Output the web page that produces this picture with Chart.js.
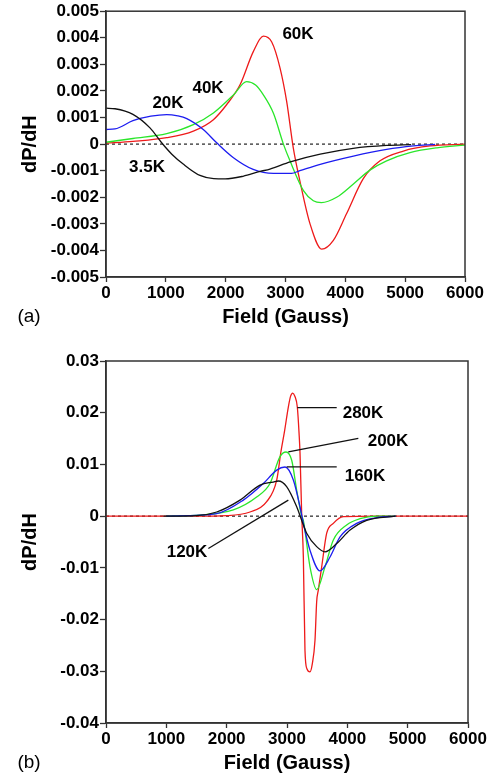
<!DOCTYPE html>
<html><head><meta charset="utf-8">
<script src="https://cdn.jsdelivr.net/npm/chart.js@4/dist/chart.umd.min.js"></script>
<style>
html,body{margin:0;padding:0;background:#fff;}
#wrap{position:relative;width:498px;height:779px;overflow:hidden;}
canvas{position:absolute;left:0;}
#ca{top:0;}
#cb{top:340px;}
</style></head><body>
<div id="wrap"><canvas id="ca" width="498" height="340"></canvas><canvas id="cb" width="498" height="439"></canvas></div>
<script>
// ---------- Panel (a) data ----------
const a_field_3_5K = [0, 150, 450, 735, 930, 1100, 1290, 1570, 1800, 1990, 2290, 2575, 2740, 3080, 3580, 4130, 4690, 5100];
const a_dpdh_3_5K  = [0.00135, 0.00133, 0.00112, 0.00061, 0.00005, -0.00038, -0.00075, -0.00118, -0.0013, -0.00131, -0.00121, -0.00103, -0.00094, -0.00067, -0.00038, -0.00016, -0.00005, -0.00002];
const a_field_20K = [0, 150, 450, 750, 1015, 1200, 1350, 1625, 1850, 2130, 2460, 2800, 3100, 3240, 3580, 4135, 4690, 5140, 5500];
const a_dpdh_20K  = [0.00055, 0.00057, 0.00088, 0.00105, 0.00111, 0.00106, 0.00096, 0.00055, 0.00005, -0.00051, -0.00095, -0.0011, -0.0011, -0.001, -0.00076, -0.00045, -0.0002, -0.00007, -0.00001];
const a_field_40K = [0, 450, 1015, 1460, 1795, 2130, 2350, 2500, 2630, 2800, 2965, 3075, 3300, 3465, 3600, 3855, 4135, 4410, 4690, 5080, 5530, 6000];
const a_dpdh_40K  = [0.00007, 0.00021, 0.00039, 0.00073, 0.00117, 0.00185, 0.00235, 0.00222, 0.00185, 0.00115, 0.0, -0.00063, -0.00175, -0.00213, -0.0022, -0.002, -0.0015, -0.00098, -0.00063, -0.00032, -0.00014, -0.00004];
const a_field_60K = [0, 450, 1015, 1460, 1795, 2015, 2240, 2460, 2630, 2770, 2910, 3020, 3130, 3240, 3410, 3605, 3800, 4020, 4300, 4580, 4970, 5415, 6000];
const a_dpdh_60K  = [0.00003, 0.0001, 0.00024, 0.00049, 0.00092, 0.00148, 0.00223, 0.00347, 0.00406, 0.00384, 0.00285, 0.0016, -0.00014, -0.00138, -0.003, -0.00395, -0.00362, -0.00262, -0.0013, -0.00063, -0.00026, -0.00007, 0];
const a_yticks = [-0.005, 0.005, 0.001];   // min, max, step
const a_labels = ["3.5K", "20K", "40K", "60K"];
const a_label_field = [685, 1036, 1705, 3209];
const a_label_dpdh  = [-0.00086, 0.00153, 0.00209, 0.00414];

// ---------- Panel (b) data ----------
const b_field_120K = [950, 1500, 1835, 2221, 2553, 2773, 2856, 2994, 3161, 3243, 3326, 3492, 3630, 3824, 4045, 4321, 4800];
const b_dpdh_120K  = [0, 0.0001, 0.0008, 0.0031, 0.006, 0.0066, 0.0068, 0.0057, 0.0018, -0.0008, -0.0033, -0.0059, -0.0069, -0.0053, -0.0027, -0.0008, 0];
const b_field_160K = [1000, 1835, 2276, 2607, 2829, 2967, 3105, 3216, 3271, 3381, 3547, 3713, 3879, 4155, 4487, 4800];
const b_dpdh_160K  = [0, 0.0005, 0.0031, 0.0063, 0.0089, 0.0095, 0.007, 0.0018, -0.0014, -0.0066, -0.0106, -0.0079, -0.004, -0.0014, -0.0003, 0];
const b_field_200K = [1000, 1558, 2110, 2497, 2718, 2884, 2984, 3078, 3161, 3243, 3271, 3381, 3492, 3630, 3768, 3989, 4210, 4487, 4800];
const b_dpdh_200K  = [0, 0.0002, 0.0012, 0.0037, 0.0063, 0.0115, 0.0124, 0.0108, 0.005, 0, -0.0008, -0.0098, -0.0142, -0.0098, -0.0046, -0.0017, -0.0005, 0, 0];
const b_field_280K = [0, 1500, 2000, 2387, 2663, 2830, 2900, 2960, 3022, 3060, 3094, 3130, 3171, 3200, 3216, 3243, 3271, 3298, 3330, 3381, 3420, 3464, 3492, 3519, 3575, 3658, 3768, 3934, 4500, 6000];
const b_dpdh_280K  = [0, 0, 0.0001, 0.0008, 0.0028, 0.007, 0.0125, 0.0165, 0.0211, 0.0232, 0.0238, 0.0232, 0.0211, 0.016, 0.0121, 0.0005, -0.0079, -0.026, -0.0295, -0.0301, -0.0285, -0.024, -0.0165, -0.0143, -0.0098, -0.0033, -0.0014, -0.0001, 0, 0];
const b_yticks = [-0.04, 0.03, 0.01];
const b_labels = ["280K", "200K", "160K", "120K"];
const b_label_field = [4260, 4674, 4293, 1343];
const b_label_dpdh  = [0.0199, 0.0145, 0.0077, -0.007];
const b_leader_from_field = [3171, 3022, 2995, 1696];
const b_leader_from_dpdh  = [0.021, 0.01244, 0.00954, -0.00625];
const b_leader_to_field   = [3824, 4182, 3824, 3022];
const b_leader_to_dpdh    = [0.021, 0.01503, 0.00954, 0.0031];

const x_ticks = [0, 6000, 1000];

// ---------- styling ----------
const FONT = "'Liberation Sans', Arial, Helvetica, sans-serif";
const AXIS = '#333333';
const COLORS = {black:'#111111', blue:'#1c1cf0', green:'#2ae62a', red:'#ee1a1a'};

function pts(xs, ys){ return xs.map((x,i)=>({x:x, y:ys[i]})); }
function ds(xs, ys, color, label){
  return {label:label, data:pts(xs,ys), borderColor:color, backgroundColor:color,
          borderWidth:1.3, pointRadius:0, cubicInterpolationMode:'monotone', fill:false};
}
function fmt(v){ const r = Math.round(v*1000)/1000; return String(r); }

function panelPlugin(opts){
  return {
    id:'panel'+opts.tag,
    beforeDatasetsDraw(chart){
      const c = chart.ctx, a = chart.chartArea, y0 = chart.scales.y.getPixelForValue(0);
      c.save(); c.strokeStyle='#222'; c.lineWidth=1.2; c.setLineDash([3,3]);
      c.beginPath(); c.moveTo(a.left, y0); c.lineTo(a.right, y0); c.stroke(); c.restore();
    },
    afterDatasetsDraw(chart){
      const c = chart.ctx, a = chart.chartArea, sx = chart.scales.x, sy = chart.scales.y;
      c.save();
      if (opts.leaders){
        c.strokeStyle='#111'; c.lineWidth=1.3;
        for (let i=0;i<opts.leaders.ff.length;i++){
          c.beginPath();
          c.moveTo(sx.getPixelForValue(opts.leaders.ff[i]), sy.getPixelForValue(opts.leaders.fd[i]));
          c.lineTo(sx.getPixelForValue(opts.leaders.tf[i]), sy.getPixelForValue(opts.leaders.td[i]));
          c.stroke();
        }
      }
      c.fillStyle='#000'; c.font='bold 17px '+FONT; c.textAlign='center'; c.textBaseline='middle';
      for (let i=0;i<opts.labels.length;i++){
        c.fillText(opts.labels[i], sx.getPixelForValue(opts.lf[i]), sy.getPixelForValue(opts.ld[i]));
      }
      c.strokeStyle=AXIS; c.lineWidth=1.5;
      c.strokeRect(a.left, a.top, a.right-a.left, a.bottom-a.top);
      c.font='bold 20px '+FONT;
      c.fillText('Field (Gauss)', (a.left+a.right)/2, opts.xTitleY);
      c.save(); c.translate(30, (a.top+a.bottom)/2); c.rotate(-Math.PI/2);
      c.fillText('dP/dH', 0, 0); c.restore();
      c.font='19px '+FONT;
      c.fillText(opts.panel, 29, opts.xTitleY);
      c.restore();
    }
  };
}

function makeChart(id, datasets, yt, xAxisH, padTop, padRight, plug){
  return new Chart(document.getElementById(id), {
    type:'line',
    data:{datasets:datasets},
    plugins:[plug],
    options:{
      responsive:false, animation:false, devicePixelRatio:1,
      layout:{padding:{top:padTop, right:padRight, left:0, bottom:0}},
      plugins:{legend:{display:false}, tooltip:{enabled:false}},
      scales:{
        x:{type:'linear', min:x_ticks[0], max:x_ticks[1],
           ticks:{stepSize:x_ticks[2], color:'#000', font:{family:FONT, size:17, weight:'bold'}, padding:1, maxRotation:0,
                  callback:(v)=>String(Math.round(v))},
           grid:{display:true, drawOnChartArea:false, drawTicks:true, tickLength:5, tickColor:AXIS, tickWidth:1.3},
           border:{display:true, color:AXIS, width:1.5},
           afterFit(s){ s.height = xAxisH; }},
        y:{type:'linear', min:yt[0], max:yt[1],
           ticks:{stepSize:yt[2], color:'#000', font:{family:FONT, size:17, weight:'bold'}, padding:1, callback:(v)=>fmt(v)},
           grid:{display:true, drawOnChartArea:false, drawTicks:true, tickLength:6, tickColor:AXIS, tickWidth:1.3},
           border:{display:true, color:AXIS, width:1.5},
           afterFit(s){ s.width = 106; }}
      }
    }
  });
}

makeChart('ca', [
  ds(a_field_3_5K, a_dpdh_3_5K, COLORS.black, '3.5K'),
  ds(a_field_20K, a_dpdh_20K, COLORS.blue, '20K'),
  ds(a_field_40K, a_dpdh_40K, COLORS.green, '40K'),
  ds(a_field_60K, a_dpdh_60K, COLORS.red, '60K')
], a_yticks, 63, 9, 33, panelPlugin({tag:'a', panel:'(a)', xTitleY:317, labels:a_labels, lf:a_label_field, ld:a_label_dpdh}));

makeChart('cb', [
  ds(b_field_120K, b_dpdh_120K, COLORS.black, '120K'),
  ds(b_field_160K, b_dpdh_160K, COLORS.blue, '160K'),
  ds(b_field_200K, b_dpdh_200K, COLORS.green, '200K'),
  ds(b_field_280K, b_dpdh_280K, COLORS.red, '280K')
], b_yticks, 56, 21, 30, panelPlugin({tag:'b', panel:'(b)', xTitleY:423, labels:b_labels, lf:b_label_field, ld:b_label_dpdh,
  leaders:{ff:b_leader_from_field, fd:b_leader_from_dpdh, tf:b_leader_to_field, td:b_leader_to_dpdh}}));
</script>
</body></html>
